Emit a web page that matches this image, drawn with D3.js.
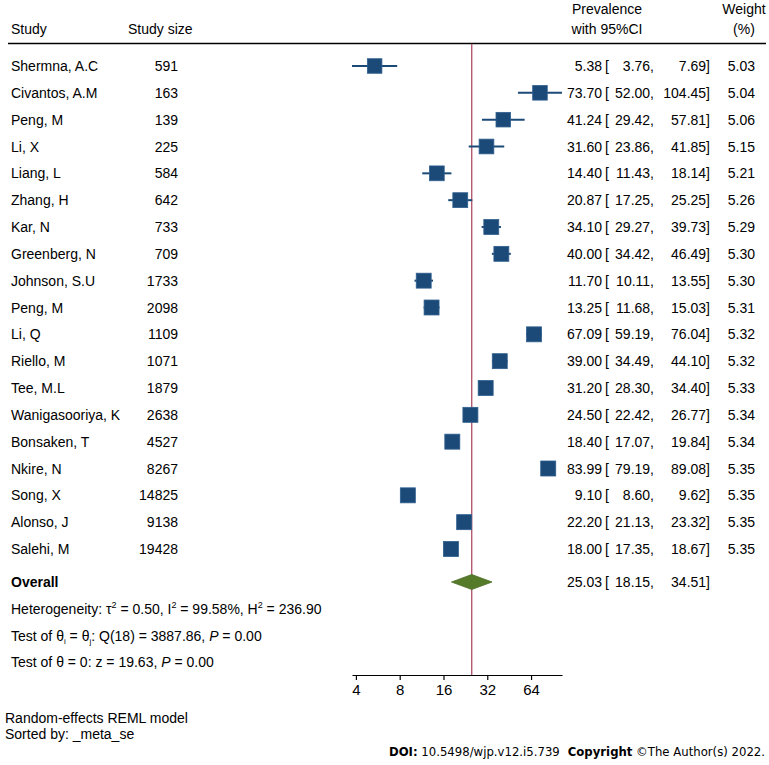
<!DOCTYPE html>
<html><head><meta charset="utf-8">
<script src="https://cdn.jsdelivr.net/npm/d3@7"></script>
<style>
body{margin:0;background:#fff;}
svg{display:block;font-family:"Liberation Sans",Arial,Helvetica,sans-serif;}
</style></head>
<body><svg id="c" width="769" height="765"></svg>
<script>
const studies = ["Shermna, A.C","Civantos, A.M","Peng, M","Li, X","Liang, L","Zhang, H","Kar, N","Greenberg, N","Johnson, S.U","Peng, M","Li, Q","Riello, M","Tee, M.L","Wanigasooriya, K","Bonsaken, T","Nkire, N","Song, X","Alonso, J","Salehi, M"];
const sizes = [591,163,139,225,584,642,733,709,1733,2098,1109,1071,1879,2638,4527,8267,14825,9138,19428];
const est = [5.38,73.70,41.24,31.60,14.40,20.87,34.10,40.00,11.70,13.25,67.09,39.00,31.20,24.50,18.40,83.99,9.10,22.20,18.00];
const lo = [3.76,52.00,29.42,23.86,11.43,17.25,29.27,34.42,10.11,11.68,59.19,34.49,28.30,22.42,17.07,79.19,8.60,21.13,17.35];
const hi = [7.69,104.45,57.81,41.85,18.14,25.25,39.73,46.49,13.55,15.03,76.04,44.10,34.40,26.77,19.84,89.08,9.62,23.32,18.67];
const weights = [5.03,5.04,5.06,5.15,5.21,5.26,5.29,5.30,5.30,5.31,5.32,5.32,5.33,5.34,5.34,5.35,5.35,5.35,5.35];
const overall = {est:25.03, lo:18.15, hi:34.51};
const tickVals = [4,8,16,32,64];

const svg = d3.select("#c");
const fs = 14;
const x = d3.scaleLog().base(2).domain([d3.min(lo), d3.max(hi)]).range([352, 562]);
const y = d3.scaleLinear().domain([0, studies.length-1]).range([66, 549]);
const yOverall = 582;
const sq = d3.scaleSqrt().domain([0, d3.max(weights)]).range([0, 15]);
const fmt = d3.format(".2f");
const navy = "#1c4a78";

// header
const hdr = svg.append("g").attr("font-size", fs).attr("fill", "#000");
hdr.append("text").attr("x", 11).attr("y", 34).text("Study");
hdr.append("text").attr("x", 128).attr("y", 34).text("Study size");
hdr.append("text").attr("x", 607).attr("y", 14).attr("text-anchor","middle").text("Prevalence");
hdr.append("text").attr("x", 607).attr("y", 34).attr("text-anchor","middle").text("with 95%CI");
hdr.append("text").attr("x", 744).attr("y", 14).attr("text-anchor","middle").text("Weight");
hdr.append("text").attr("x", 744).attr("y", 34).attr("text-anchor","middle").text("(%)");
svg.append("line").attr("x1", 8).attr("x2", 766).attr("y1", 43.5).attr("y2", 43.5)
  .attr("stroke", "#000").attr("stroke-width", 1.6);

// reference line at overall estimate
svg.append("line").attr("x1", x(overall.est)).attr("x2", x(overall.est))
  .attr("y1", 44).attr("y2", 675).attr("stroke", "#a8405a").attr("stroke-width", 1.2);

// rows
const rows = svg.append("g").selectAll("g").data(studies).join("g")
  .attr("transform", (d,i) => `translate(0,${y(i)})`);
rows.append("text").attr("x", 11).attr("y", 5).attr("font-size", fs).text(d => d);
rows.append("text").attr("x", 178).attr("y", 5).attr("font-size", fs).attr("text-anchor","end").text((d,i)=>sizes[i]);
rows.append("line").attr("x1",(d,i)=>x(lo[i])).attr("x2",(d,i)=>x(hi[i])).attr("y1",0).attr("y2",0)
  .attr("stroke", navy).attr("stroke-width", 2);
rows.append("rect")
  .attr("x",(d,i)=>x(est[i]) - sq(weights[i])/2).attr("y",(d,i)=>-sq(weights[i])/2)
  .attr("width",(d,i)=>sq(weights[i])).attr("height",(d,i)=>sq(weights[i]))
  .attr("fill", navy).attr("stroke","#2f5f8f").attr("stroke-width",0.8);
function ciText(g, e, l, h) {
  g.append("text").attr("x", 602).attr("y", 5).attr("font-size", fs).attr("text-anchor","end").text(fmt(e));
  g.append("text").attr("x", 605).attr("y", 5).attr("font-size", fs).text("[");
  g.append("text").attr("x", 654).attr("y", 5).attr("font-size", fs).attr("text-anchor","end").text(fmt(l)+",");
  g.append("text").attr("x", 710).attr("y", 5).attr("font-size", fs).attr("text-anchor","end").text(fmt(h)+"]");
}
rows.each(function(d,i){
  const g = d3.select(this);
  ciText(g, est[i], lo[i], hi[i]);
  g.append("text").attr("x", 755).attr("y", 5).attr("font-size", fs).attr("text-anchor","end").text(fmt(weights[i]));
});

// overall
const og = svg.append("g").attr("transform", `translate(0,${yOverall})`);
og.append("text").attr("x", 11).attr("y", 5).attr("font-size", fs).attr("font-weight","bold").text("Overall");
og.append("path").attr("d", `M${x(overall.lo)},0 L${x(overall.est)},-7.5 L${x(overall.hi)},0 L${x(overall.est)},7.5 Z`)
  .attr("fill", "#557a2a").attr("stroke", "#4d7026").attr("stroke-width", 0.8);
ciText(og, overall.est, overall.lo, overall.hi);

// stats text
const st = svg.append("g").attr("font-size", fs);
const t1 = st.append("text").attr("x", 11).attr("y", 614);
t1.append("tspan").text("Heterogeneity: τ");
t1.append("tspan").attr("font-size", 9).attr("dy", -6).text("2");
t1.append("tspan").attr("dy", 6).text(" = 0.50, I");
t1.append("tspan").attr("font-size", 9).attr("dy", -6).text("2");
t1.append("tspan").attr("dy", 6).text(" = 99.58%, H");
t1.append("tspan").attr("font-size", 9).attr("dy", -6).text("2");
t1.append("tspan").attr("dy", 6).text(" = 236.90");
const t2 = st.append("text").attr("x", 11).attr("y", 641);
t2.append("tspan").text("Test of θ");
t2.append("tspan").attr("font-size", 8).attr("dy", 3).text("i");
t2.append("tspan").attr("dy", -3).text(" = θ");
t2.append("tspan").attr("font-size", 8).attr("dy", 3).text("j");
t2.append("tspan").attr("dy", -3).text(": Q(18) = 3887.86, ");
t2.append("tspan").attr("font-style","italic").text("P");
t2.append("tspan").text(" = 0.00");
const t3 = st.append("text").attr("x", 11).attr("y", 667);
t3.append("tspan").text("Test of θ = 0: z = 19.63, ");
t3.append("tspan").attr("font-style","italic").text("P");
t3.append("tspan").text(" = 0.00");

// axis
const ax = svg.append("g").attr("transform", "translate(0,675)")
  .call(d3.axisBottom(x).tickValues(tickVals).tickFormat(d3.format("d")).tickSize(5).tickSizeOuter(0).tickPadding(4));
ax.select(".domain").attr("stroke", "#000").attr("stroke-width", 1.2);
ax.selectAll(".tick line").attr("stroke", "#000").attr("stroke-width", 1.2);
ax.selectAll(".tick text").attr("font-size", 15).attr("font-family", '"Liberation Sans",Arial,sans-serif').attr("fill","#000");

// notes
svg.append("text").attr("x", 5).attr("y", 723).attr("font-size", fs).text("Random-effects REML model");
svg.append("text").attr("x", 5).attr("y", 739).attr("font-size", fs).text("Sorted by: _meta_se");

// DOI line
const doi = svg.append("text").attr("x", 765).attr("y", 756).attr("text-anchor","end")
  .attr("font-family", '"DejaVu Sans",Verdana,sans-serif').attr("font-size", 11.7).attr("fill","#000");
doi.append("tspan").attr("font-weight","bold").text("DOI:");
doi.append("tspan").text(" 10.5498/wjp.v12.i5.739");
doi.append("tspan").attr("font-weight","bold").attr("dx", 8).text("Copyright");
doi.append("tspan").text(" ©The Author(s) 2022.");
</script></body></html>
